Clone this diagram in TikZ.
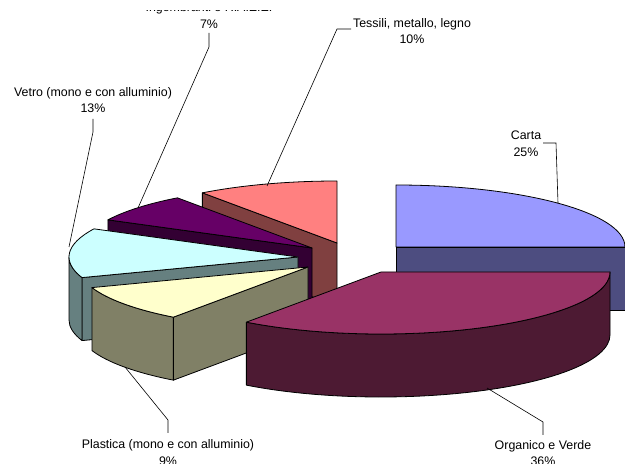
\documentclass[tikz,border=0pt]{standalone}
\usepackage{fontspec}
\setmainfont{Liberation Sans}
\definecolor{cartaT}{HTML}{9999FF}\definecolor{cartaS}{HTML}{4D4D80}
\definecolor{orgT}{HTML}{993366}\definecolor{orgS}{HTML}{4D1A33}
\definecolor{plaT}{HTML}{FFFFCC}\definecolor{plaS}{HTML}{808066}
\definecolor{vetT}{HTML}{CCFFFF}\definecolor{vetS}{HTML}{668080}
\definecolor{ingT}{HTML}{660066}\definecolor{ingS}{HTML}{330033}
\definecolor{tesT}{HTML}{FF8080}\definecolor{tesS}{HTML}{804040}
\tikzset{
  pieline/.style={draw=black,line width=0.8pt,line join=round},
  leader/.style={draw=black,line width=0.6pt},
  lbl/.style={align=center,font=\fontsize{12.4}{16.5}\selectfont,inner sep=0pt}
}
% top face: cx, cy, a1, a2, colour
\newcommand\pieTop[5]{\filldraw[fill=#5,pieline] (#1,#2) -- ([shift={(#3:229pt and 62pt)}]#1,#2) arc[start angle=#3,end angle=#4,x radius=229pt,y radius=62pt] -- cycle;}
% radial face: cx, cy, angle, colour
\newcommand\pieRad[4]{\filldraw[fill=#4,pieline] (#1,#2) -- ([shift={(#3:229pt and 62pt)}]#1,#2) -- ++(0,-63) -- (#1,#2-63) -- cycle;}
% outer curved face: cx, cy, b1, b2, colour
\newcommand\pieSide[5]{\filldraw[fill=#5,pieline] ([shift={(#3:229pt and 62pt)}]#1,#2) arc[start angle=#3,end angle=#4,x radius=229pt,y radius=62pt] -- ++(0,-63) arc[start angle=#4,end angle=#3,x radius=229pt,y radius=62pt] -- cycle;}
\begin{document}
\begin{tikzpicture}[x=1pt,y=1pt]
\useasboundingbox (0,0) rectangle (625,464);
% Tessili
\pieRad{337}{221}{126}{tesS}
\pieTop{337}{221}{126}{90}{tesT}
% Ingombranti
\pieRad{312}{216}{153}{ingS}
\pieTop{312}{216}{153}{126}{ingT}
% Vetro
\pieRad{298}{207}{199.4}{vetS}
\pieSide{298}{207}{199.4}{180}{vetS}
\pieTop{298}{207}{199.4}{153}{vetT}
% Carta
\pieRad{396}{217}{0}{cartaS}
\pieTop{396}{217}{90}{0}{cartaT}
% Plastica
\pieRad{308}{197}{234}{plaS}
\pieSide{308}{197}{234}{199.4}{plaS}
\pieTop{308}{197}{234}{199.4}{plaT}
% Organico
\pieSide{381}{192}{360}{234}{orgS}
\pieTop{381}{192}{360}{234}{orgT}

% labels
\begin{scope}
\clip (0,0) rectangle (625,453.5);
\node[lbl] (lIng) at (209,448.5) {Ingombranti e R.A.E.E.\\7\%};
\end{scope}
\node[lbl] (lTes) at (412,433) {Tessili, metallo, legno\\10\%};
\node[lbl] (lCar) at (526,320.5) {Carta\\25\%};
\node[lbl] (lVet) at (93,364) {Vetro (mono e con alluminio)\\13\%};
\node[lbl] (lOrg) at (543,11) {Organico e Verde\\36\%};
\node[lbl] (lPla) at (168,11.5) {Plastica (mono e con alluminio)\\9\%};

% leader lines
\coordinate (iA) at (209,431); \coordinate (iB) at (209,417); \coordinate (iC) at (138,256);
\coordinate (tA) at (351,435); \coordinate (tB) at (337,435); \coordinate (tC) at (267,278);
\coordinate (vA) at (93,345);  \coordinate (vB) at (93,332);  \coordinate (vC) at (69,217);
\coordinate (cA) at (543,321); \coordinate (cB) at (556,321); \coordinate (cC) at (558,261);
\coordinate (oA) at (487,76);  \coordinate (oB) at (543,42);  \coordinate (oC) at (543,29);
\coordinate (pA) at (125,97);  \coordinate (pB) at (168,44);  \coordinate (pC) at (168,31);
\draw[leader] (iA) -- (iB) -- (iC);
\draw[leader] (tA) -- (tB) -- (tC);
\draw[leader] (vA) -- (vB) -- (vC);
\draw[leader] (cA) -- (cB) -- (cC);
\draw[leader] (oA) -- (oB) -- (oC);
\draw[leader] (pA) -- (pB) -- (pC);
\end{tikzpicture}
\end{document}
